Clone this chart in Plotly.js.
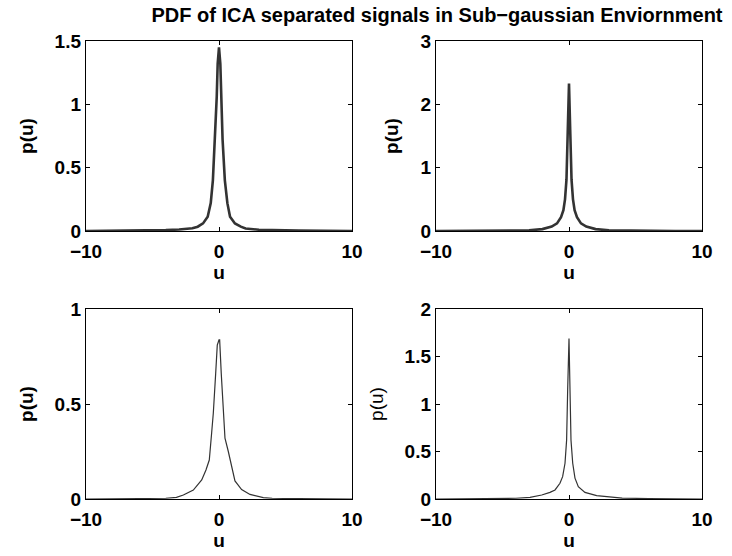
<!DOCTYPE html>
<html>
<head>
<meta charset="utf-8">
<script src="https://cdn.plot.ly/plotly-3.0.1.min.js"></script>
<style>html,body{margin:0;padding:0;background:#fff;}#chart{width:732px;height:556px;}</style>
</head>
<body>
<div id="chart"></div>
<script>
// Sub-plot 1 (top-left)
const u1 = [-10, -8, -6, -4, -3, -2, -1.6, -1.2, -0.85, -0.62, -0.46, -0.3, -0.17, -0.1, 0, 0.1, 0.17, 0.27, 0.44, 0.63, 0.83, 1.2, 1.64, 2, 3, 4, 6, 8, 10];
const p1 = [0.0, 0.001, 0.003, 0.007, 0.012, 0.022, 0.034, 0.06, 0.113, 0.22, 0.40, 0.72, 1.06, 1.32, 1.45, 1.32, 1.06, 0.72, 0.40, 0.22, 0.113, 0.06, 0.034, 0.02, 0.01, 0.006, 0.003, 0.001, 0.0];
// Sub-plot 2 (top-right)
const u2 = [-10, -8, -6, -4, -3, -2, -1.8, -1.3, -0.9, -0.6, -0.42, -0.3, -0.19, -0.09, 0, 0.09, 0.19, 0.3, 0.42, 0.6, 0.9, 1.3, 1.8, 2, 3, 4, 6, 8, 10];
const p2 = [0.0, 0.001, 0.002, 0.006, 0.01, 0.03, 0.04, 0.07, 0.12, 0.22, 0.33, 0.5, 0.81, 1.6, 2.33, 1.6, 0.81, 0.5, 0.33, 0.22, 0.12, 0.07, 0.04, 0.03, 0.01, 0.006, 0.002, 0.001, 0.0];
// Sub-plot 3 (bottom-left)
const u3 = [-10, -8, -6, -4, -3.2, -2.68, -1.93, -1.3, -0.98, -0.73, -0.55, -0.43, -0.25, -0.13, 0, 0.05, 0.17, 0.33, 0.45, 0.7, 0.95, 1.2, 1.7, 2.33, 3.33, 4, 6, 8, 10];
const p3 = [0.0, 0.001, 0.002, 0.004, 0.009, 0.021, 0.047, 0.10, 0.153, 0.205, 0.35, 0.45, 0.66, 0.81, 0.837, 0.837, 0.66, 0.43, 0.32, 0.25, 0.18, 0.095, 0.05, 0.024, 0.007, 0.004, 0.002, 0.001, 0.0];
// Sub-plot 4 (bottom-right)
const u4 = [-10, -8, -6, -4, -2.93, -2.05, -1.43, -1.05, -0.68, -0.48, -0.3, -0.18, -0.1, 0, 0.075, 0.15, 0.28, 0.45, 0.7, 1.2, 2.08, 3.33, 4, 6, 8, 10];
const p4 = [0.0, 0.001, 0.003, 0.008, 0.018, 0.042, 0.07, 0.095, 0.165, 0.235, 0.376, 0.62, 1.15, 1.69, 1.15, 0.62, 0.376, 0.22, 0.13, 0.07, 0.035, 0.018, 0.01, 0.004, 0.001, 0.0];

const titleText = 'PDF of ICA separated signals in Sub\u2212gaussian Enviornment';
const xTicks = [-10, 0, 10];

const F = 'Liberation Sans, Arial, Helvetica, sans-serif';
const boldFont = {family: F, size: 19, color: '#000', weight: 'bold'};
const normFont = {family: F, size: 19, color: '#000', weight: 'normal'};

const traces = [
  {x: u1, y: p1, xaxis: 'x', yaxis: 'y', mode: 'lines', line: {color: '#333', width: 2.6}},
  {x: u2, y: p2, xaxis: 'x2', yaxis: 'y2', mode: 'lines', line: {color: '#333', width: 2.6}},
  {x: u3, y: p3, xaxis: 'x3', yaxis: 'y3', mode: 'lines', line: {color: '#333', width: 1.2}},
  {x: u4, y: p4, xaxis: 'x4', yaxis: 'y4', mode: 'lines', line: {color: '#333', width: 1.2}}
];

function xa(dom, anchor) {
  return {domain: dom, anchor: anchor, range: [-10, 10], tickvals: xTicks,
    ticks: 'inside', ticklen: 4, tickcolor: '#000', showline: true, mirror: 'ticks',
    linecolor: '#000', linewidth: 1.2, showgrid: false, zeroline: false,
    ticklabelstandoff: 3,
    tickfont: boldFont, title: {text: 'u', font: boldFont, standoff: 2}};
}
function ya(dom, anchor, rng, ytitleFont) {
  return {domain: dom, anchor: anchor, range: rng, dtick: 0.5,
    ticks: 'inside', ticklen: 4, tickcolor: '#000', showline: true, mirror: 'ticks',
    linecolor: '#000', linewidth: 1.2, showgrid: false, zeroline: false,
    tickfont: boldFont, title: {text: 'p(u)', font: ytitleFont, standoff: 16}};
}

const xL = [86/732, 352/732], xR = [436/732, 702/732];
const yT = [325/556, 515/556], yB = [57/556, 247/556];

const layout = {
  width: 732, height: 556,
  margin: {l: 0, r: 0, t: 0, b: 0},
  paper_bgcolor: '#fff', plot_bgcolor: '#fff',
  showlegend: false,
  title: {text: titleText, font: {family: F, size: 20, color: '#000', weight: 'bold'},
    x: 437/732, xanchor: 'center', xref: 'paper', y: 1 - 15/556, yanchor: 'middle', yref: 'container'},
  xaxis: xa(xL, 'y'), yaxis: ya(yT, 'x', [0, 1.5], boldFont),
  xaxis2: xa(xR, 'y2'), yaxis2: ya(yT, 'x2', [0, 3], boldFont),
  xaxis3: xa(xL, 'y3'), yaxis3: ya(yB, 'x3', [0, 1], boldFont),
  xaxis4: xa(xR, 'y4'), yaxis4: ya(yB, 'x4', [0, 2], normFont)
};
layout.yaxis2.dtick = 1;

Plotly.newPlot('chart', traces, layout, {displayModeBar: false, staticPlot: true});
</script>
</body>
</html>
